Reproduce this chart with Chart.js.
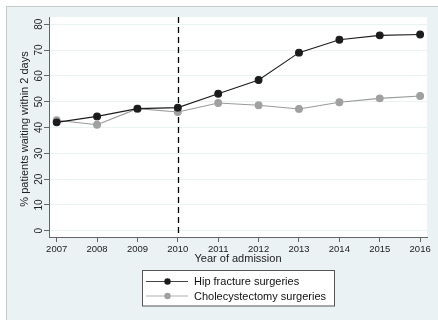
<!DOCTYPE html>
<html>
<head>
<meta charset="utf-8">
<script src="https://cdn.jsdelivr.net/npm/chart.js@4"></script>
<style>
  html, body { margin: 0; padding: 0; background: #fff; }
  #wrap { width: 438px; height: 320px; }
</style>
</head>
<body>
<div id="wrap"><canvas id="chart" width="438" height="320"></canvas></div>
<script>
const years = [2007, 2008, 2009, 2010, 2011, 2012, 2013, 2014, 2015, 2016];
const hipFracture = [42.0, 44.3, 47.3, 47.7, 53.1, 58.4, 69.0, 74.0, 75.7, 76.0];
const cholecystectomy = [42.8, 41.1, 47.3, 46.0, 49.5, 48.6, 47.2, 49.8, 51.3, 52.2];
const yTicks = [0, 10, 20, 30, 40, 50, 60, 70, 80];
const interventionYear = 2010;

const FONT = '"Liberation Sans", Arial, sans-serif';
const BG = '#eaf2f3';

// stata-like frame, dashed line, rotated y labels, titles and the legend box
const stataLook = {
    id: 'stataLook',
    beforeDraw(chart) {
        const ctx = chart.ctx;
        const a = chart.chartArea;
        ctx.save();
        ctx.fillStyle = '#fff';
        ctx.fillRect(0, 0, chart.width, chart.height);
        ctx.fillStyle = BG;
        ctx.fillRect(6, 6, chart.width - 6, chart.height - 6);
        ctx.strokeStyle = '#c4c8c9';
        ctx.lineWidth = 1;
        ctx.beginPath();
        ctx.moveTo(6.5, chart.height);
        ctx.lineTo(6.5, 6.5);
        ctx.lineTo(chart.width, 6.5);
        ctx.stroke();
        ctx.fillStyle = '#fff';
        ctx.fillRect(a.left, a.top, a.right - a.left, a.bottom - a.top);
        ctx.restore();
    },
    beforeDatasetsDraw(chart) {
        const ctx = chart.ctx;
        const a = chart.chartArea;
        const x = Math.round(chart.scales.x.getPixelForValue(interventionYear)) + 0.5;
        ctx.save();
        ctx.strokeStyle = '#000';
        ctx.lineWidth = 1.3;
        ctx.setLineDash([6, 4]);
        ctx.beginPath();
        ctx.moveTo(x, a.top);
        ctx.lineTo(x, a.bottom);
        ctx.stroke();
        ctx.restore();
    },
    afterDraw(chart) {
        const ctx = chart.ctx;
        const a = chart.chartArea;
        const y = chart.scales.y;
        ctx.save();
        // y tick labels, vertical like stata
        ctx.fillStyle = '#222';
        ctx.font = '10px ' + FONT;
        ctx.textAlign = 'center';
        ctx.textBaseline = 'middle';
        y.ticks.forEach(t => {
            const py = y.getPixelForValue(t.value);
            ctx.save();
            ctx.translate(39, py);
            ctx.rotate(-Math.PI / 2);
            ctx.fillText(String(t.value), 0, 0);
            ctx.restore();
        });
        // axis titles
        ctx.font = '11px ' + FONT;
        ctx.save();
        ctx.translate(25, (a.top + a.bottom) / 2 + 2);
        ctx.rotate(-Math.PI / 2);
        ctx.fillText('% patients waiting within 2 days', 0, 0);
        ctx.restore();
        ctx.fillText('Year of admission', (a.left + a.right) / 2, 258.5);

        // legend
        const bx = 142.5, by = 270.5, bw = 192, bh = 35.5;
        ctx.fillStyle = '#fff';
        ctx.fillRect(bx, by, bw, bh);
        ctx.strokeStyle = '#555';
        ctx.lineWidth = 1;
        ctx.strokeRect(bx, by, bw, bh);
        ctx.textAlign = 'left';
        chart.data.datasets.forEach((ds, i) => {
            const ly = 281.5 + i * 14.5;
            ctx.strokeStyle = ds.legendLine;
            ctx.lineWidth = 1.2;
            ctx.beginPath();
            ctx.moveTo(146, ly);
            ctx.lineTo(188, ly);
            ctx.stroke();
            ctx.fillStyle = ds.pointBackgroundColor;
            ctx.beginPath();
            ctx.arc(167.5, ly, 3.2, 0, Math.PI * 2);
            ctx.fill();
            ctx.fillStyle = '#111';
            ctx.fillText(ds.label, 194, ly + 0.5);
        });
        ctx.restore();
    }
};

const chart = new Chart(document.getElementById('chart'), {
    type: 'line',
    data: {
        datasets: [{
            label: 'Hip fracture surgeries',
            data: years.map((yr, i) => ({ x: yr, y: hipFracture[i] })),
            borderColor: '#1c1c1c',
            borderWidth: 1.1,
            pointBackgroundColor: '#1c1c1c',
            pointBorderColor: '#1c1c1c',
            pointRadius: 3.4,
            legendLine: '#444',
            tension: 0,
            order: 1
        }, {
            label: 'Cholecystectomy surgeries',
            data: years.map((yr, i) => ({ x: yr, y: cholecystectomy[i] })),
            borderColor: '#9a9a9a',
            borderWidth: 1.1,
            pointBackgroundColor: '#a0a0a0',
            pointBorderColor: '#a0a0a0',
            pointRadius: 3.4,
            legendLine: '#b0b0b0',
            tension: 0,
            order: 2
        }]
    },
    options: {
        responsive: false,
        animation: false,
        events: [],
        layout: { padding: { left: 0, right: 11, top: 17, bottom: 0 } },
        plugins: {
            legend: { display: false },
            tooltip: { enabled: false }
        },
        scales: {
            x: {
                type: 'linear',
                min: 2006.81,
                max: 2016.17,
                afterBuildTicks(scale) {
                    scale.ticks = years.map(v => ({ value: v }));
                },
                afterFit(scale) { scale.height = 83; },
                border: { color: '#666', width: 1 },
                grid: { drawOnChartArea: false, drawTicks: true, tickLength: 5, tickColor: '#666' },
                ticks: {
                    callback: v => String(v),
                    color: '#222',
                    font: { family: FONT, size: 9.5 },
                    padding: 2,
                    maxRotation: 0,
                    autoSkip: false
                }
            },
            y: {
                min: -2.4,
                max: 82.8,
                afterBuildTicks(scale) {
                    scale.ticks = yTicks.map(v => ({ value: v }));
                },
                afterFit(scale) { scale.width = 49; },
                border: { color: '#666', width: 1 },
                grid: { color: BG, lineWidth: 1, drawTicks: true, tickLength: 5, tickColor: '#666' },
                ticks: { display: false }
            }
        }
    },
    plugins: [stataLook]
});
</script>
</body>
</html>
